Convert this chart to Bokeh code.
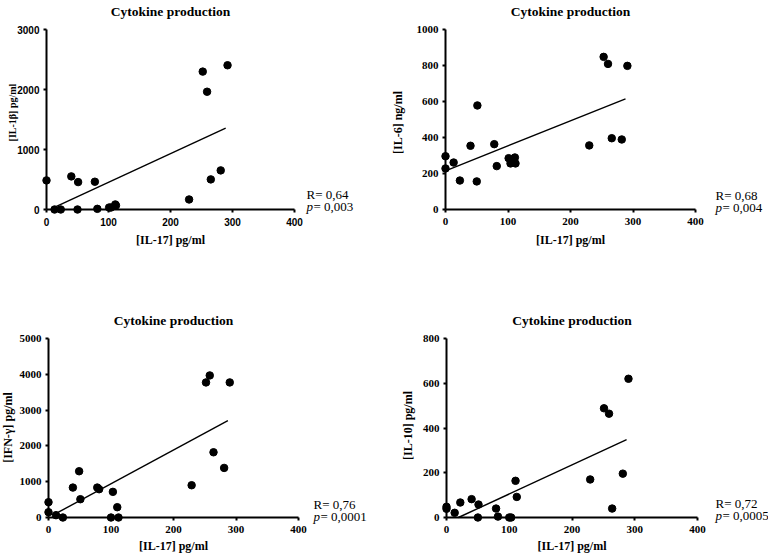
import math
from bokeh.plotting import figure
from bokeh.layouts import column, row
from bokeh.models import Range1d, Label, FixedTicker
from bokeh.embed import file_html
from bokeh.resources import INLINE

# ---------------- data ----------------
title_text = "Cytokine production"
x_label = "[IL-17] pg/ml"
x_ticks = [0, 100, 200, 300, 400]

# Panel A: IL-1beta
a_il17 = [0, 13, 23, 40, 51, 50, 78, 82, 101, 104, 111, 112, 230, 252, 259, 265, 281, 292]
a_vals = [485, 0, 0, 552, 457, 0, 463, 11, 33, 33, 84, 67, 167, 2298, 1963, 502, 652, 2404]
a_fit_x = [10, 289]
a_fit_y = [22, 1355]
a_ylabel = "[IL-1\u03b2] pg/ml"
a_yticks = [0, 1000, 2000, 3000]
a_r = "R= 0,64"
a_p = "= 0,003"

# Panel B: IL-6
b_il17 = [0, 0, 13, 23, 40, 51, 50, 78, 82, 101, 104, 111, 112, 230, 253, 260, 266, 282, 291]
b_vals = [296, 228, 261, 161, 354, 578, 156, 363, 241, 285, 256, 289, 256, 356, 848, 809, 396, 389, 798]
b_fit_x = [0, 288]
b_fit_y = [215, 615]
b_ylabel = "[IL-6] ng/ml"
b_yticks = [0, 200, 400, 600, 800, 1000]
b_r = "R= 0,68"
b_p = "= 0,004"

# Panel C: IFN-gamma
c_il17 = [0, 0, 12, 23, 39, 49, 51, 78, 81, 103, 100, 110, 112, 229, 252, 258, 264, 281, 290]
c_vals = [428, 149, 65, 0, 836, 1292, 511, 836, 790, 716, 0, 288, 0, 901, 3773, 3968, 1822, 1385, 3773]
c_fit_x = [7, 287]
c_fit_y = [65, 2704]
c_ylabel = "[IFN-\u03b3] pg/ml"
c_yticks = [0, 1000, 2000, 3000, 4000, 5000]
c_r = "R= 0,76"
c_p = "= 0,0001"

# Panel D: IL-10
d_il17 = [0, 0, 13, 22, 40, 51, 50, 79, 82, 100, 103, 110, 112, 229, 251, 259, 264, 281, 290]
d_vals = [48, 39, 21, 67, 82, 58, 0, 40, 4, 0, 0, 164, 92, 170, 488, 464, 40, 196, 620]
d_fit_x = [19, 287]
d_fit_y = [0, 348]
d_ylabel = "[IL-10] pg/ml"
d_yticks = [0, 200, 400, 600, 800]
d_r = "R= 0,72"
d_p = "= 0,0005"

# ---------------- layout helpers ----------------
CELL_W, CELL_H = 384, 277
SERIF = "Liberation Serif"


def make_panel(cell_left, cell_top, x0px, x400px, ytop_px, y0px, ymax, yticks,
               xs, ys, fx, fy, ylabel, rtxt, ptxt, tick_font, tick_size, ylab_size,
               ylab_x, ylab_cy, r_x, r_base, xlab_base, r_size):
    sx = (x400px - x0px) / 400.0
    sy = (y0px - ytop_px) / float(ymax)

    def dx(px):
        return (px - x0px) / sx

    def dy(py):
        return (y0px - py) / sy

    p = figure(width=CELL_W, height=CELL_H,
               x_range=Range1d(dx(cell_left), dx(cell_left + CELL_W)),
               y_range=Range1d(dy(cell_top + CELL_H), dy(cell_top)),
               output_backend="svg", toolbar_location=None,
               min_border_left=0, min_border_right=0,
               min_border_top=0, min_border_bottom=0,
               outline_line_color=None, background_fill_color="white",
               border_fill_color="white")
    p.xgrid.visible = False
    p.ygrid.visible = False
    p.xaxis.fixed_location = 0
    p.yaxis.fixed_location = 0
    p.xaxis.bounds = (0, 400)
    p.yaxis.bounds = (0, ymax)
    p.xaxis.ticker = FixedTicker(ticks=x_ticks)
    p.yaxis.ticker = FixedTicker(ticks=yticks)
    for ax in (p.xaxis, p.yaxis):
        ax.minor_tick_line_color = None
        ax.major_tick_in = 0
        ax.major_tick_out = 3
        ax.axis_line_width = 2
        ax.major_tick_line_width = 2
        ax.axis_line_color = "black"
        ax.major_tick_line_color = "black"
        ax.major_label_text_font = tick_font
        ax.major_label_text_font_style = "bold"
        ax.major_label_text_font_size = tick_size
        ax.major_label_text_color = "black"
    p.xaxis.major_label_standoff = 5
    p.yaxis.major_label_standoff = 4

    p.line(fx, fy, line_color="black", line_width=1.4)
    p.scatter(xs, ys, size=7.5, fill_color="black", line_color="black")

    # title
    p.add_layout(Label(x=200, y=dy(ytop_px - 18), text=title_text, text_align="center",
                       text_baseline="alphabetic", text_font=SERIF,
                       text_font_style="bold", text_font_size="13.5px", text_color="black"))
    # y label
    p.add_layout(Label(x=dx(ylab_x), y=dy(ylab_cy), text=ylabel, angle=math.pi / 2,
                       text_align="center", text_baseline="middle", text_font=SERIF,
                       text_font_style="bold", text_font_size=ylab_size, text_color="black"))
    # x label
    p.add_layout(Label(x=200, y=dy(xlab_base), text=x_label, text_align="center",
                       text_baseline="alphabetic", text_font=SERIF,
                       text_font_style="bold", text_font_size="12px", text_color="black"))
    # statistics
    p.add_layout(Label(x=dx(r_x), y=dy(r_base), text=rtxt, text_align="left",
                       text_baseline="alphabetic", text_font=SERIF,
                       text_font_size=r_size, text_color="black"))
    p.add_layout(Label(x=dx(r_x), y=dy(r_base + 12), text="p", text_align="left",
                       text_baseline="alphabetic", text_font=SERIF, text_font_style="italic",
                       text_font_size=r_size, text_color="black"))
    p.add_layout(Label(x=dx(r_x + 7), y=dy(r_base + 12), text=ptxt, text_align="left",
                       text_baseline="alphabetic", text_font=SERIF,
                       text_font_size=r_size, text_color="black"))
    return p


p1 = make_panel(0, 0, 46, 294, 29, 209, 3000, a_yticks, a_il17, a_vals, a_fit_x, a_fit_y,
                a_ylabel, a_r, a_p, "Liberation Sans", "10px", "10px", 12, 112, 306, 194, 239, "13px")
p2 = make_panel(384, 0, 445, 695, 29, 209, 1000, b_yticks, b_il17, b_vals, b_fit_x, b_fit_y,
                b_ylabel, b_r, b_p, SERIF, "11px", "12px", 397, 122, 715, 195, 239, "13px")
p3 = make_panel(0, 277, 48, 298, 338, 517, 5000, c_yticks, c_il17, c_vals, c_fit_x, c_fit_y,
                c_ylabel, c_r, c_p, SERIF, "11px", "12px", 7, 427, 313, 504, 545, "13px")
p4 = make_panel(384, 277, 446, 697, 338, 517, 800, d_yticks, d_il17, d_vals, d_fit_x, d_fit_y,
                d_ylabel, d_r, d_p, SERIF, "11px", "12px", 407, 425, 715, 503, 545, "13px")

layout = column(row(p1, p2), row(p3, p4))
open("out.html", "w").write(file_html(layout, INLINE))
